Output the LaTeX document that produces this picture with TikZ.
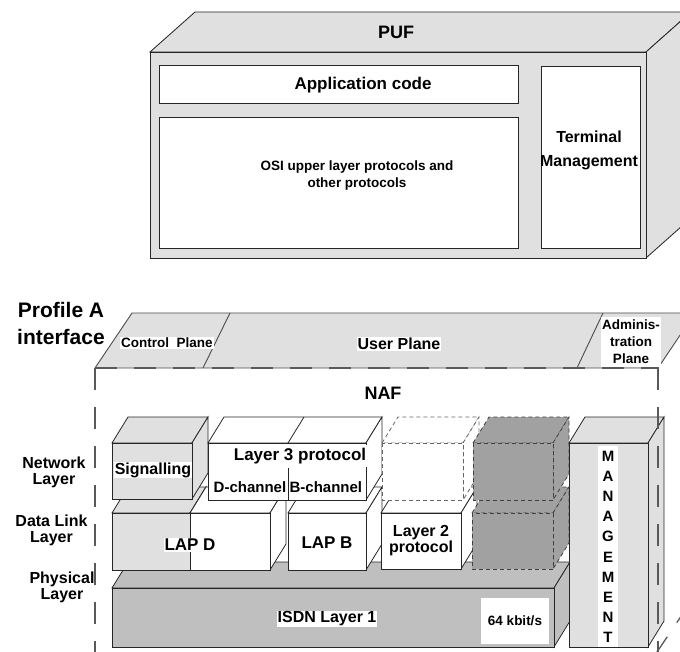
\documentclass[tikz,border=0pt]{standalone}
\usepackage{fontspec}
\setmainfont{Liberation Sans}
\usetikzlibrary{positioning}

% front face from (#1,#2) to (#3,#4), depth goes up and right
\newcommand{\drawcube}[5]{%
  \draw[#5] (#1,#2) -- (#1+16,#2-26) -- (#3+16,#2-26) -- (#3,#2) -- cycle;
  \draw[#5] (#3,#2) -- (#3+16,#2-26) -- (#3+16,#4-26) -- (#3,#4) -- cycle;
  \draw[#5] (#1,#2) rectangle (#3,#4);
}

\begin{document}
\begin{tikzpicture}[x=1pt,y=-1pt]
\tikzstyle{frame}=[draw=black!85,line width=0.8pt]
\tikzstyle{lightbox}=[frame,fill=black!12]
\tikzstyle{whitebox}=[frame,fill=white]
\tikzstyle{isdnbox}=[frame,fill=black!25]
\tikzstyle{darkbox}=[draw=black!75,line width=0.8pt,dash pattern=on 4pt off 3pt,fill=black!37]
\tikzstyle{ghostbox}=[draw=black!60,line width=0.8pt,dash pattern=on 4pt off 3pt,fill=white]
\tikzstyle{planeline}=[draw=black!70,line width=0.9pt]
\tikzstyle{nafline}=[draw=black!65,line width=1.3pt,dash pattern=on 22pt off 17pt]
\tikzstyle{tag}=[fill=white,inner sep=1pt]
\tikzstyle{bigtext}=[font=\fontsize{18}{27}\selectfont\bfseries]
\tikzstyle{midtext}=[font=\fontsize{16}{16}\selectfont\bfseries,align=center]
\tikzstyle{smalltext}=[font=\fontsize{13.5}{17}\selectfont\bfseries,align=center]

\useasboundingbox (0,0) rectangle (680,652);
\clip (0,0) rectangle (680,652);

% PUF
\draw[lightbox] (150,52) -- (195,12) -- (691,12) -- (646,52) -- cycle;
\draw[lightbox] (646,52) -- (691,12) -- (691,218) -- (646,258) -- cycle;
\draw[lightbox] (150,52) rectangle (646,258);
\node[bigtext] (puf) at (396,32) {PUF};
\draw[whitebox] (159,65) rectangle (518,103);
\draw[whitebox] (159,117) rectangle (518,248);
\draw[whitebox] (541,66) rectangle (640,248);
\node[font=\fontsize{17}{17}\selectfont\bfseries] (app) at (363,85) {Application code};
\node[smalltext] (osi) at (357,176) {OSI upper layer protocols and\\other protocols};
\node[midtext,font=\fontsize{16}{24}\selectfont\bfseries] (term) at (589,150) {Terminal\\Management};

% interface and planes
\node[font=\fontsize{21}{27}\selectfont\bfseries,align=center] (prof) at (61,323) {Profile A\\interface};
\draw[planeline,fill=black!12] (95,368) -- (132,313) -- (695,313) -- (658,368) -- cycle;
\draw[planeline] (203,368) -- (230,313);
\draw[planeline] (577,368) -- (603,313);
\node[smalltext,tag] (ctrl) at (167,343) {Control\ \ Plane};
\node[midtext,tag] (user) at (399,344) {User Plane};
\node[smalltext,tag,minimum width=56pt,minimum height=50pt] (admin) at (631,342) {Adminis-\\tration\\Plane};
\node[bigtext] (naf) at (383,393) {NAF};

% layer names
\node[midtext,anchor=east] (netl) at (89,472) {Network\\Layer};
\node[midtext,anchor=east] (dll) at (91,530) {Data Link\\Layer};
\node[midtext,anchor=east] (phl) at (98,587) {Physical\\Layer};

% physical layer
\drawcube{112}{588}{554}{647}{isdnbox}
\node[midtext,tag] (isdn) at (327,619) {ISDN Layer 1};
\node[smalltext,tag,minimum width=68pt,minimum height=46pt] (rate) at (515,621) {64 kbit/s};

% data link layer
\drawcube{112}{513}{190}{570}{lightbox}
\drawcube{190}{513}{270}{570}{whitebox}
\drawcube{288}{513}{366}{570}{whitebox}
\drawcube{381}{513}{461}{569}{whitebox}
\drawcube{472}{513}{553}{569}{darkbox}
\node[font=\fontsize{17}{17}\selectfont\bfseries,tag] (lapd) at (190,545) {LAP D};
\node[font=\fontsize{17}{17}\selectfont\bfseries] (lapb) at (327,543) {LAP B};
\node[midtext] (l2) at (421,541) {Layer 2\\protocol};

% network layer
\drawcube{112}{443}{192}{499}{lightbox}
\drawcube{208}{443}{366}{500}{whitebox}
\draw[frame] (288,443) -- (304,417);
\draw[frame] (288,468) -- (288,500);
\drawcube{382}{443}{463}{500}{ghostbox}
\drawcube{473}{443}{553}{500}{darkbox}
\node[midtext,tag] (sig) at (153,470) {Signalling};
\node[font=\fontsize{17}{17}\selectfont\bfseries,tag,inner ysep=3pt] (l3) at (300,456) {Layer 3 protocol};
\node[font=\fontsize{15}{15}\selectfont\bfseries,inner sep=0pt] (dch) at (250,487) {D-channel};
\node[font=\fontsize{15}{15}\selectfont\bfseries,inner sep=0pt,right=3pt of dch] (bch) {B-channel};

% management
\drawcube{569}{443}{648}{647}{lightbox}
\fill[white] (598,446) rectangle (618,647);
\foreach \c [count=\i from 0] in {M,A,N,A,G,E,M,E,N,T}
  \node[font=\fontsize{15}{15}\selectfont\bfseries] (mgt\i) at (608,456+20.2*\i) {\c};

% NAF frame
\draw[nafline] (95,368) -- (658,368);
\draw[nafline] (95,368) -- (95,660);
\draw[nafline] (658,368) -- (658,660);
\draw[nafline] (655,655) -- (692,600);
\end{tikzpicture}
\end{document}
